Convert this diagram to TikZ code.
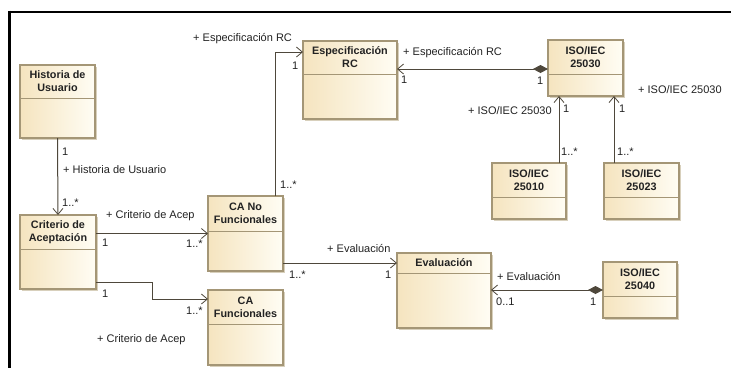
\documentclass[tikz,border=0pt]{standalone}
\usepackage{fontspec}
\setmainfont{Liberation Sans}
\usetikzlibrary{arrows.meta}
\definecolor{boxL}{HTML}{F5E4BF}
\definecolor{boxR}{HTML}{FFFDF4}
\definecolor{boxB}{HTML}{A49676}
\definecolor{shad}{HTML}{D8D0BC}
\definecolor{lineC}{HTML}{4E473B}
\definecolor{txtC}{HTML}{222222}
\tikzset{
  clsbox/.style={draw=boxB, line width=1.2pt, left color=boxL, right color=boxR, inner sep=0pt, outer sep=0pt},
  clstitle/.style={font=\fontsize{10.8}{13}\selectfont\bfseries, text=txtC, align=center, inner sep=0pt},
  lbl/.style={font=\fontsize{11}{12}\selectfont, text=txtC, anchor=west, inner sep=0pt},
  assoc/.style={draw=lineC, line width=1pt, -{Straight Barb[length=6pt,width=10pt,line width=0.8pt]}},
  comp/.style={draw=lineC, line width=1pt, {Diamond[length=15pt,width=8pt,fill=lineC]}-{Straight Barb[length=6pt,width=10pt,line width=0.8pt]}}
}
\newcommand\umlcls[7]{%
  \fill[shad] (#2+1.5,#3+1.5) rectangle (#4+1.5,#5+1.5);
  \node[clsbox, anchor=north west, minimum width={(#4-#2)*1pt}, minimum height={(#5-#3)*1pt}] (#1) at (#2,#3) {};
  \draw[boxB, line width=1pt] (#2,#6) -- (#4,#6);
  \node[clstitle] (#1-t) at ({(#2+#4)/2},{(#3+#6)/2}) {#7};
}
\begin{document}
\begin{tikzpicture}[x=1pt,y=-1pt]
\useasboundingbox (0,0) rectangle (731,368);
\fill[white] (0,0) rectangle (731,368);
\draw[black, line width=2pt] (8.5,11.5) -- (731,11.5);
\draw[black, line width=3pt] (9.5,10.5) -- (9.5,368);

\umlcls{hu}{20}{65}{95}{138}{98}{Historia de\\Usuario}
\umlcls{ca}{20}{215}{96}{289}{249}{Criterio de\\Aceptación}
\umlcls{canf}{208}{196}{283}{271}{231}{CA No\\Funcionales}
\umlcls{caf}{208}{290}{283}{365}{324}{CA\\Funcionales}
\umlcls{esp}{303}{41}{397}{119}{74}{Especificación\\RC}
\umlcls{iso30}{548}{40}{623}{96}{74}{ISO/IEC\\25030}
\umlcls{iso10}{492}{163}{566}{219}{197}{ISO/IEC\\25010}
\umlcls{iso23}{604}{163}{679}{219}{197}{ISO/IEC\\25023}
\umlcls{eval}{397}{253}{491}{328}{273}{Evaluación}
\umlcls{iso40}{603}{262}{677}{318}{296}{ISO/IEC\\25040}

% connectors
\draw[assoc] (hu.south) -- (ca.north);
\draw[assoc] (canf.west -| ca.east) -- (canf.west);
\draw[assoc] ([yshift=7pt]ca.south east) -- ++(56,0) |- ([yshift=-9pt]caf.north west);
\draw[assoc] ([xshift=-8pt]canf.north east) |- ([yshift=-11pt]esp.north west);
\draw[comp] ([yshift=-29pt]iso30.north west) -- ([yshift=-29pt]iso30.north west -| esp.east);
\draw[assoc] ([xshift=-7pt]iso10.north east) -- ([xshift=-7pt]iso10.north east |- iso30.south);
\draw[assoc] ([xshift=10pt]iso23.north west) -- ([xshift=10pt]iso23.north west |- iso30.south);
\draw[assoc] ([yshift=8pt]canf.south east) -- ([yshift=8pt]canf.south east -| eval.west);
\draw[comp] (iso40.west) -- (iso40.west -| eval.east);

% labels
\node[lbl] (h1) at (62,152) {1};
\node[lbl] (h2) at (63,170) {+ Historia de Usuario};
\node[lbl] (h3) at (62,203) {1..*};
\node[lbl] (c1) at (106,216) {+ Criterio de Acep};
\node[lbl] (c2) at (102,243) {1};
\node[lbl] (c3) at (186,244) {1..*};
\node[lbl] (c4) at (102,294) {1};
\node[lbl] (c5) at (186,311) {1..*};
\node[lbl] (c6) at (97,340) {+ Criterio de Acep};
\node[lbl] (e1) at (193,39) {+ Especificación RC};
\node[lbl] (e2) at (292,66) {1};
\node[lbl] (e3) at (280,185) {1..*};
\node[lbl] (s1) at (403,53) {+ Especificación RC};
\node[lbl] (s2) at (401,80) {1};
\node[lbl] (s3) at (537,81) {1};
\node[lbl] (i1) at (468,111) {+ ISO/IEC 25030};
\node[lbl] (i2) at (563,109) {1};
\node[lbl] (i3) at (561,152) {1..*};
\node[lbl] (i4) at (619,109) {1};
\node[lbl] (i5) at (617,152) {1..*};
\node[lbl] (i6) at (638,90) {+ ISO/IEC 25030};
\node[lbl] (v1) at (327,248) {+ Evaluación};
\node[lbl] (v2) at (289,275) {1..*};
\node[lbl] (v3) at (385,275) {1};
\node[lbl] (w1) at (497,276) {+ Evaluación};
\node[lbl] (w2) at (496,302) {0..1};
\node[lbl] (w3) at (590,302) {1};
\end{tikzpicture}
\end{document}
